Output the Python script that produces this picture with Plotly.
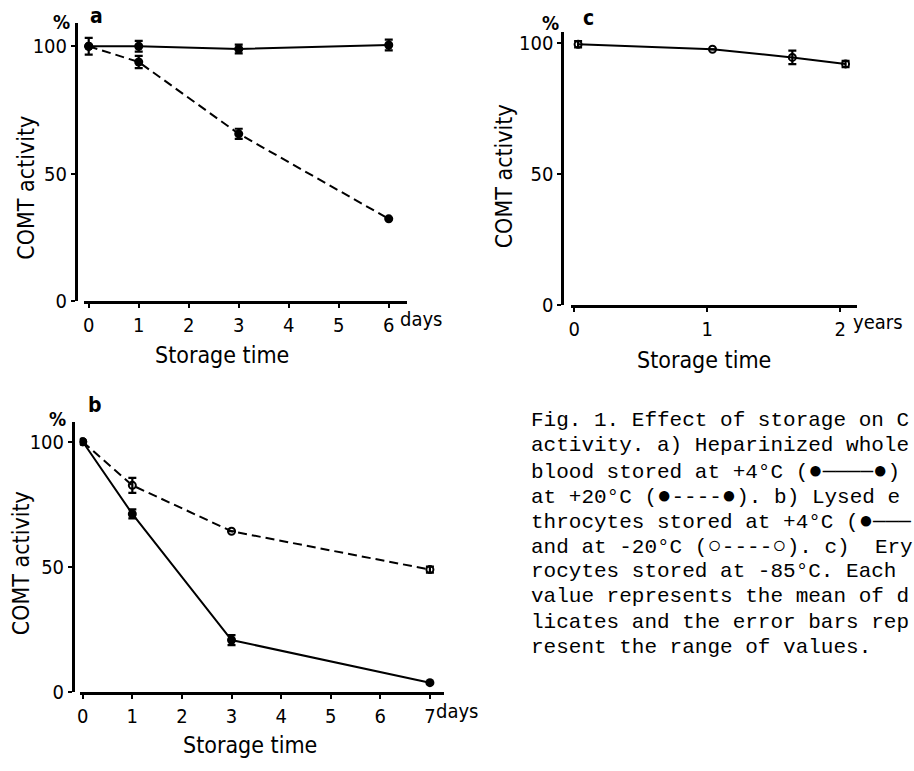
import plotly.graph_objects as go

# ---------------- data ----------------
a_days = [0, 1, 3, 6]
a_plus4 = [100, 100, 98.9, 100.5]
a_plus4_err = [3.3, 2.1, 1.7, 2.1]
a_plus20 = [100, 93.8, 65.6, 32.2]
a_plus20_err = [0, 2.4, 2.0, 0]

b_days = [0, 1, 3, 7]
b_plus4 = [100, 71.2, 20.9, 3.9]
b_plus4_err = [0, 1.8, 2.0, 0]
b_minus20 = [100, 82.6, 64.3, 49.0]
b_minus20_err = [0, 3.0, 0, 1.2]

c_years = [0.03, 1.04, 1.64, 2.04]
c_minus85 = [99.6, 97.7, 94.6, 92.1]
c_minus85_err = [1.2, 0, 2.6, 1.2]

y_ticks = [0, 50, 100]
a_xticks = [0, 1, 2, 3, 4, 5, 6]
b_xticks = [0, 1, 2, 3, 4, 5, 6, 7]
c_xticks = [0, 1, 2]

BIG_DOT = '<span style="font-size:24px">●</span>'
BIG_RING = '<span style="font-size:24px">○</span>'
caption_lines = [
    "Fig. 1. Effect of storage on C",
    "activity. a) Heparinized whole",
    "blood stored at +4°C (" + BIG_DOT + "────" + BIG_DOT + ")",
    "at +20°C (" + BIG_DOT + "----" + BIG_DOT + "). b) Lysed e",
    "throcytes stored at +4°C (" + BIG_DOT + "───",
    "and at -20°C (" + BIG_RING + "----" + BIG_RING + "). c)  Ery",
    "rocytes stored at -85°C. Each",
    "value represents the mean of d",
    "licates and the error bars rep",
    "resent the range of values.",
]

# ---------------- layout helpers ----------------
W, H = 914, 771
SANS = "DejaVu Sans Condensed, Liberation Sans, Arial, sans-serif"
MONO = "Liberation Mono, DejaVu Sans Mono, monospace"


def px(x):
    return x / W


def py(y):
    return 1 - y / H


fig = go.Figure()

panels = {
    "a": dict(xd=(81, 405), yd=(22, 305), yline=73, x0=86, xs=50.17, y0=305, ys=2.59, ticks=a_xticks),
    "b": dict(xd=(77, 442), yd=(428, 703.3), yline=70, x0=80, xs=49.76, y0=703.3, ys=2.55, ticks=b_xticks),
    "c": dict(xd=(570, 857), yd=(32, 309), yline=561, x0=573, xs=133.5, y0=309, ys=2.66, ticks=c_xticks),
}
axis_ids = {"a": ("x", "y", ""), "b": ("x2", "y2", "2"), "c": ("x3", "y3", "3")}

for key, p in panels.items():
    xid, yid, suf = axis_ids[key]
    xr = [(p["xd"][0] - p["x0"]) / p["xs"], (p["xd"][1] - p["x0"]) / p["xs"]]
    yr = [0, (p["y0"] - p["yd"][0]) / p["ys"]]
    fig.update_layout(**{
        "xaxis" + suf: dict(
            domain=[px(p["xd"][0]), px(p["xd"][1])], range=xr, anchor=yid,
            showline=True, linecolor="black", linewidth=2.5, showgrid=False, zeroline=False,
            tickmode="array", tickvals=p["ticks"], ticktext=[str(t) for t in p["ticks"]],
            ticks="outside", ticklen=4, tickwidth=2, tickcolor="black",
            tickfont=dict(family=SANS, size=20, color="black"), fixedrange=True,
        ),
        "yaxis" + suf: dict(
            domain=[py(p["yd"][1]), py(p["yd"][0])], range=yr, anchor="free", position=px(p["yline"]),
            showline=True, linecolor="black", linewidth=2.5, showgrid=False, zeroline=False,
            tickmode="array", tickvals=y_ticks, ticktext=[str(t) for t in y_ticks],
            ticks="outside", ticklen=4, tickwidth=2, tickcolor="black",
            tickfont=dict(family=SANS, size=20, color="black"), fixedrange=True,
        ),
    })


def err(arr):
    return dict(type="data", array=arr, visible=True, color="black", thickness=2.2, width=4)


# panel a
fig.add_trace(go.Scatter(x=a_days, y=a_plus20, mode="lines+markers", xaxis="x", yaxis="y",
                         line=dict(color="black", width=2, dash="9px,5px"),
                         marker=dict(symbol="circle", size=9, color="black"), error_y=err(a_plus20_err)))
fig.add_trace(go.Scatter(x=a_days, y=a_plus4, mode="lines+markers", xaxis="x", yaxis="y",
                         line=dict(color="black", width=2),
                         marker=dict(symbol="circle", size=9, color="black"), error_y=err(a_plus4_err)))

# panel b
fig.add_trace(go.Scatter(x=b_days, y=b_minus20, mode="lines+markers", xaxis="x2", yaxis="y2",
                         line=dict(color="black", width=2, dash="9px,5px"),
                         marker=dict(symbol="circle-open", size=7, color="black", line=dict(width=2)),
                         error_y=err(b_minus20_err)))
fig.add_trace(go.Scatter(x=b_days, y=b_plus4, mode="lines+markers", xaxis="x2", yaxis="y2",
                         line=dict(color="black", width=2),
                         marker=dict(symbol="circle", size=9, color="black"), error_y=err(b_plus4_err)))

# panel c
fig.add_trace(go.Scatter(x=c_years, y=c_minus85, mode="lines+markers", xaxis="x3", yaxis="y3",
                         line=dict(color="black", width=2),
                         marker=dict(symbol="circle-open", size=7, color="black", line=dict(width=2)),
                         error_y=err(c_minus85_err)))

annotations = []


def ann(text, x, y, size=21, family=SANS, angle=0, xanchor="center", bold=False):
    annotations.append(dict(
        text=("<b>%s</b>" % text) if bold else text, x=px(x), y=py(y), xref="paper", yref="paper",
        showarrow=False, xanchor=xanchor, yanchor="middle", textangle=angle,
        font=dict(family=family, size=size, color="black"), borderpad=0,
    ))


# panel letters and % signs
ann("%", 59, 21, size=19, bold=True)
ann("a", 94, 15, size=21, bold=True)
ann("%", 549, 22, size=19, bold=True)
ann("c", 587, 17, size=21, bold=True)
ann("%", 55, 425, size=19, bold=True)
ann("b", 92, 411, size=21, bold=True)

# axis titles
ann("COMT activity", 23, 190, size=23, angle=-90)
ann("COMT activity", 503, 178, size=23, angle=-90)
ann("COMT activity", 18, 572, size=23, angle=-90)
ann("Storage time", 220, 360, size=23)
ann("Storage time", 703, 365, size=23)
ann("Storage time", 248, 757, size=23)

# unit labels after last tick
ann("days", 397, 323, size=20, xanchor="left")
ann("years", 852, 327, size=20, xanchor="left")
ann("days", 433, 722, size=20, xanchor="left")

# caption
for i, line in enumerate(caption_lines):
    ann(line.replace(" ", "\u00a0").replace("<span\u00a0", "<span "), 529, 427 + i * 25.6,
        size=21, family=MONO, xanchor="left")

fig.update_layout(
    width=W, height=H, margin=dict(l=0, r=0, t=0, b=0, pad=0),
    paper_bgcolor="white", plot_bgcolor="white", showlegend=False,
    annotations=annotations,
)

fig.write_html(
    "out.html",
    config={"displayModeBar": False},
    post_script="document.body.style.margin='0';document.body.style.overflow='hidden';",
)
